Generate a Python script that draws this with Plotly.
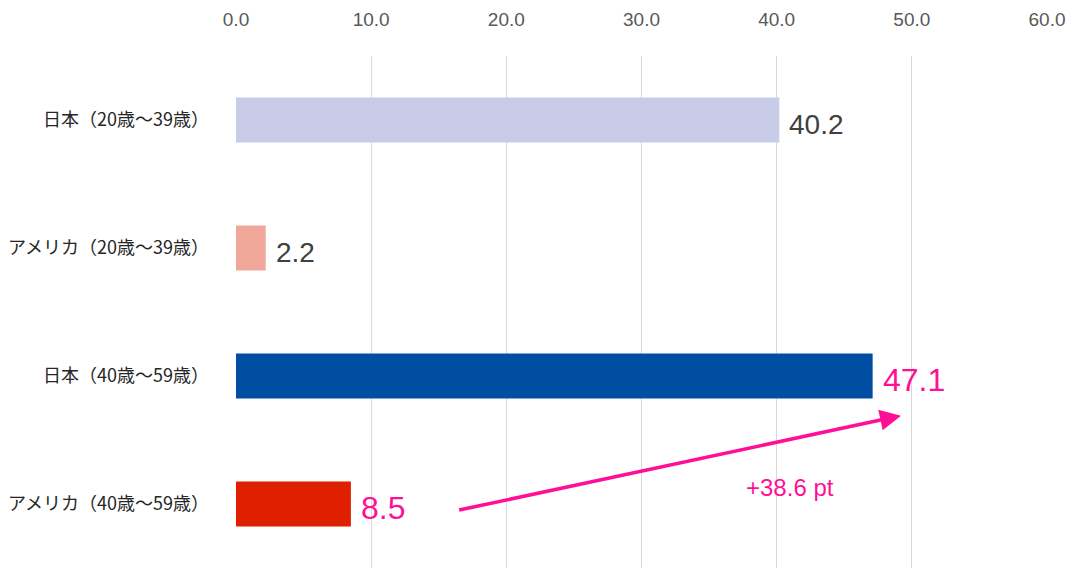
import plotly.graph_objects as go

categories = ["日本（20歳〜39歳）", "アメリカ（20歳〜39歳）", "日本（40歳〜59歳）", "アメリカ（40歳〜59歳）"]
values = [40.2, 2.2, 47.1, 8.5]
bar_colors = ["#c8cce6", "#f0a89b", "#004ea2", "#e01e00"]
label_colors = ["#404040", "#404040", "#ff0f96", "#ff0f96"]
label_sizes = [28, 28, 32, 32]
tick_vals = [0, 10, 20, 30, 40, 50, 60]
tick_text = ["0.0", "10.0", "20.0", "30.0", "40.0", "50.0", "60.0"]

diff = round(values[2] - values[3], 1)
accent = "#ff0f96"

fig = go.Figure()
fig.add_trace(go.Bar(
    x=values, y=categories, orientation="h",
    marker=dict(color=bar_colors, line=dict(width=0)),
    width=0.35, showlegend=False, hoverinfo="skip",
))

# value labels
for cat, v, c, s in zip(categories, values, label_colors, label_sizes):
    fig.add_annotation(x=v, y=cat, text=f"{v:.1f}", showarrow=False,
                       xanchor="left", yanchor="middle", xshift=8, yshift=-4,
                       font=dict(size=s, color=c, family="Liberation Sans, Arial"))

# arrow from 8.5 to 47.1
fig.add_annotation(x=values[2] + 2.1, y=2.31, ax=values[3] + 7.9, ay=3.05,
                   xref="x", yref="y", axref="x", ayref="y",
                   text="", showarrow=True, arrowhead=2, arrowsize=1.2,
                   arrowwidth=3.5, arrowcolor=accent)
fig.add_annotation(x=41, y=2.87, text=f"+{diff} pt", showarrow=False,
                   font=dict(size=24, color=accent, family="Liberation Sans, Arial"))

# page body has an 8px margin, so the figure is a bit smaller than the window
fig.update_layout(
    width=1071, height=560,
    margin=dict(l=228, r=32, t=48, b=0),
    plot_bgcolor="white", paper_bgcolor="white",
    bargap=0.65,
    font=dict(family="Noto Sans CJK JP"),
)
fig.update_xaxes(side="top", range=[0, 60], tickvals=tick_vals, ticktext=tick_text,
                 showgrid=True, gridcolor="#d9d9d9", gridwidth=1, zeroline=False,
                 showline=False, ticks="", ticklabelstandoff=25, automargin=False,
                 tickfont=dict(size=19, color="#595959", family="Liberation Sans, Arial"))
fig.update_yaxes(categoryorder="array", categoryarray=categories, autorange="reversed",
                 showgrid=False, zeroline=False, showline=False, ticks="",
                 ticklabelstandoff=26, automargin=False,
                 tickfont=dict(size=18, color="#262626", family="Noto Sans CJK JP"))

fig.write_html("out.html")
